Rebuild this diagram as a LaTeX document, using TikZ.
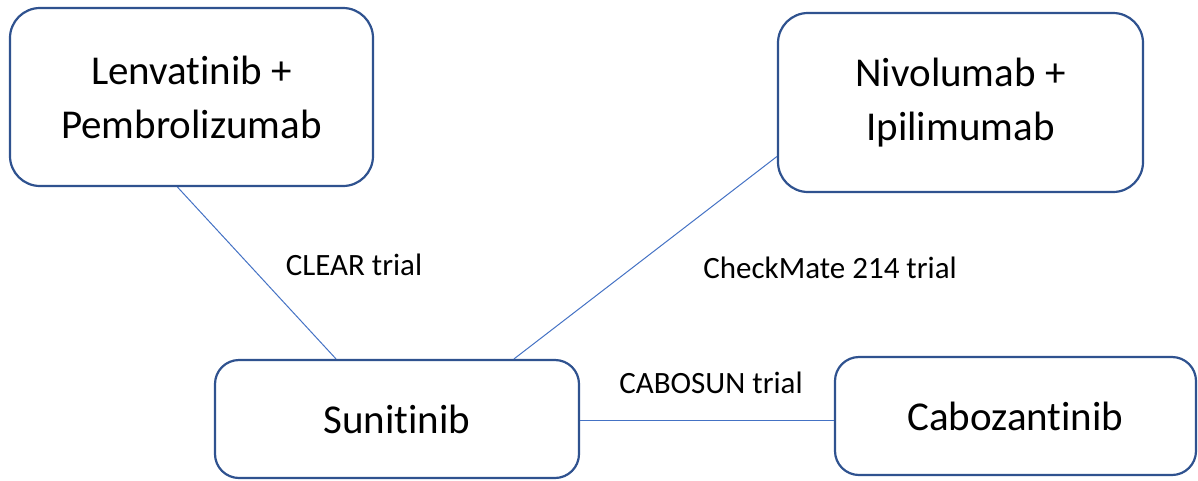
\documentclass[tikz,border=0pt]{standalone}
\usepackage{fontspec}
\setmainfont[Ligatures=NoCommon]{Carlito}
\definecolor{boxblue}{HTML}{2F528F}
\definecolor{linkblue}{HTML}{4472C4}

\begin{document}
\begin{tikzpicture}[x=1pt,y=-1pt,
    drug/.style={draw=boxblue, line width=2.2pt, rounded corners=30pt, fill=white,
      align=center, inner sep=0pt, font=\fontsize{41}{54}\selectfont},
    trial/.style={font=\fontsize{31}{37}\selectfont, inner sep=0pt},
    link/.style={draw=linkblue, line width=1pt}]
    \useasboundingbox (0,0) rectangle (1198,480);

    % treatment boxes
    \node[drug, minimum width=363pt, minimum height=178pt] (lenv) at (191.5,97) {Lenvatinib +\\Pembrolizumab};
    \node[drug, minimum width=365pt, minimum height=179pt] (nivo) at (960.5,102.5) {Nivolumab +\\Ipilimumab};
    \node[drug, minimum width=364pt, minimum height=118pt, rounded corners=24pt] (suni) at (397,419) {Sunitinib};
    \node[drug, minimum width=361pt, minimum height=118pt, rounded corners=24pt] (cabo) at (1015.5,416) {Cabozantinib};

    % trial names
    \node[trial] (clear) at (354,265) {CLEAR trial};
    \node[trial] (checkmate) at (830,268) {CheckMate 214 trial};
    \node[trial] (cabosun) at (711,383) {CABOSUN trial};

    \draw[link] ([xshift=-14pt]lenv.south) -- ([xshift=-61pt]suni.north);
    \draw[link] ([yshift=-54pt]nivo.west) -- ([xshift=117pt]suni.north);
    \draw[link] ([yshift=-1pt]suni.east) -- ([yshift=-1pt]suni.east -| cabo.west);
\end{tikzpicture}
\end{document}
